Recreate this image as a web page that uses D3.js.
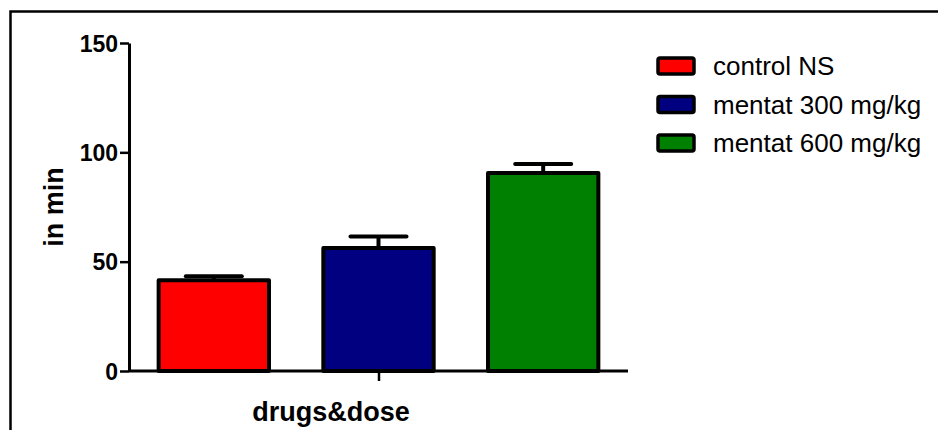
<!DOCTYPE html>
<html>
<head>
<meta charset="utf-8">
<script src="https://cdn.jsdelivr.net/npm/d3@7"></script>
<style>
	body { margin: 0; background: #fff; }
	text { font-family: "Liberation Sans", Arial, sans-serif; }
</style>
</head>
<body>
<div id="chart"></div>
<script>
// groups, means and SEM
var groups = ["control NS", "mentat 300 mg/kg", "mentat 600 mg/kg"];
var means = [41.5, 56.3, 90.5];
var errors = [1.8, 5.2, 4.2];
var colors = ["#ff0000", "#000080", "#008000"];
var yTicks = [0, 50, 100, 150];

var width = 938;
var height = 430;

var svg = d3.select("#chart")
	.append("svg")
	.attr("width", width)
	.attr("height", height);

// frame (only top and left edges are in view)
svg.append("path")
	.attr("d", "M10.5," + height + "V11.5H" + width)
	.attr("fill", "none")
	.attr("stroke", "#000")
	.attr("stroke-width", 2.5);

var x = d3.scaleBand()
	.domain(groups)
	.range([129, 628])
	.paddingInner(0.33)
	.paddingOuter(0.18);

var y = d3.scaleLinear()
	.domain([0, 150])
	.range([371, 43]);

// y axis
var yAxis = svg.append("g")
	.attr("transform", "translate(129,0)")
	.attr("font-size", 23)
	.call(d3.axisLeft(y).tickValues(yTicks).tickSize(9).tickSizeOuter(0));
yAxis.attr("font-size", 23).attr("font-family", "'Liberation Sans', Arial, sans-serif");
yAxis.select(".domain").attr("stroke-width", 3);
yAxis.selectAll(".tick line").attr("stroke-width", 2.5);
yAxis.selectAll(".tick text")
	.attr("x", -11)
	.attr("dy", "0.36em")
	.style("font-size", "23px")
	.style("font-weight", "bold")
	.attr("fill", "#000");

// bars
svg.selectAll("rect.bar")
	.data(groups)
	.enter()
	.append("rect")
	.attr("class", "bar")
	.attr("x", function(d) { return x(d); })
	.attr("y", function(d, i) { return y(means[i]); })
	.attr("width", x.bandwidth())
	.attr("height", function(d, i) { return y(0) - y(means[i]); })
	.attr("fill", function(d, i) { return colors[i]; })
	.attr("stroke", "#000")
	.attr("stroke-width", 4)
	.attr("stroke-linejoin", "round");

// error bars (upper only)
var err = svg.selectAll("g.err")
	.data(groups)
	.enter()
	.append("g")
	.attr("class", "err");

err.append("line")
	.attr("x1", function(d) { return x(d) + x.bandwidth() / 2; })
	.attr("x2", function(d) { return x(d) + x.bandwidth() / 2; })
	.attr("y1", function(d, i) { return y(means[i]); })
	.attr("y2", function(d, i) { return y(means[i] + errors[i]); })
	.attr("stroke", "#000")
	.attr("stroke-width", 4);

err.append("line")
	.attr("x1", function(d) { return x(d) + x.bandwidth() / 2 - 28; })
	.attr("x2", function(d) { return x(d) + x.bandwidth() / 2 + 28; })
	.attr("y1", function(d, i) { return y(means[i] + errors[i]); })
	.attr("y2", function(d, i) { return y(means[i] + errors[i]); })
	.attr("stroke", "#000")
	.attr("stroke-width", 4)
	.attr("stroke-linecap", "round");

// x axis line with a single centre tick
svg.append("line")
	.attr("x1", 129).attr("x2", 628)
	.attr("y1", y(0)).attr("y2", y(0))
	.attr("stroke", "#000")
	.attr("stroke-width", 3);
svg.append("line")
	.attr("x1", 379).attr("x2", 379)
	.attr("y1", y(0)).attr("y2", y(0) + 10)
	.attr("stroke", "#000")
	.attr("stroke-width", 2.5);

// axis titles
svg.append("text")
	.attr("x", 331)
	.attr("y", 421)
	.attr("text-anchor", "middle")
	.style("font-size", "27px")
	.style("font-weight", "bold")
	.text("drugs&dose");

svg.append("text")
	.attr("transform", "translate(63,207) rotate(-90)")
	.attr("text-anchor", "middle")
	.style("font-size", "27px")
	.style("font-weight", "bold")
	.text("in min");

// legend
var legend = svg.selectAll("g.legend")
	.data(groups)
	.enter()
	.append("g")
	.attr("class", "legend")
	.attr("transform", function(d, i) { return "translate(658," + (58 + i * 38.5) + ")"; });

legend.append("rect")
	.attr("width", 36)
	.attr("height", 16)
	.attr("rx", 2)
	.attr("fill", function(d, i) { return colors[i]; })
	.attr("stroke", "#000")
	.attr("stroke-width", 3.5);

legend.append("text")
	.attr("x", 55)
	.attr("y", 17)
	.style("font-size", "26px")
	.text(function(d) { return d; });
</script>
</body>
</html>
